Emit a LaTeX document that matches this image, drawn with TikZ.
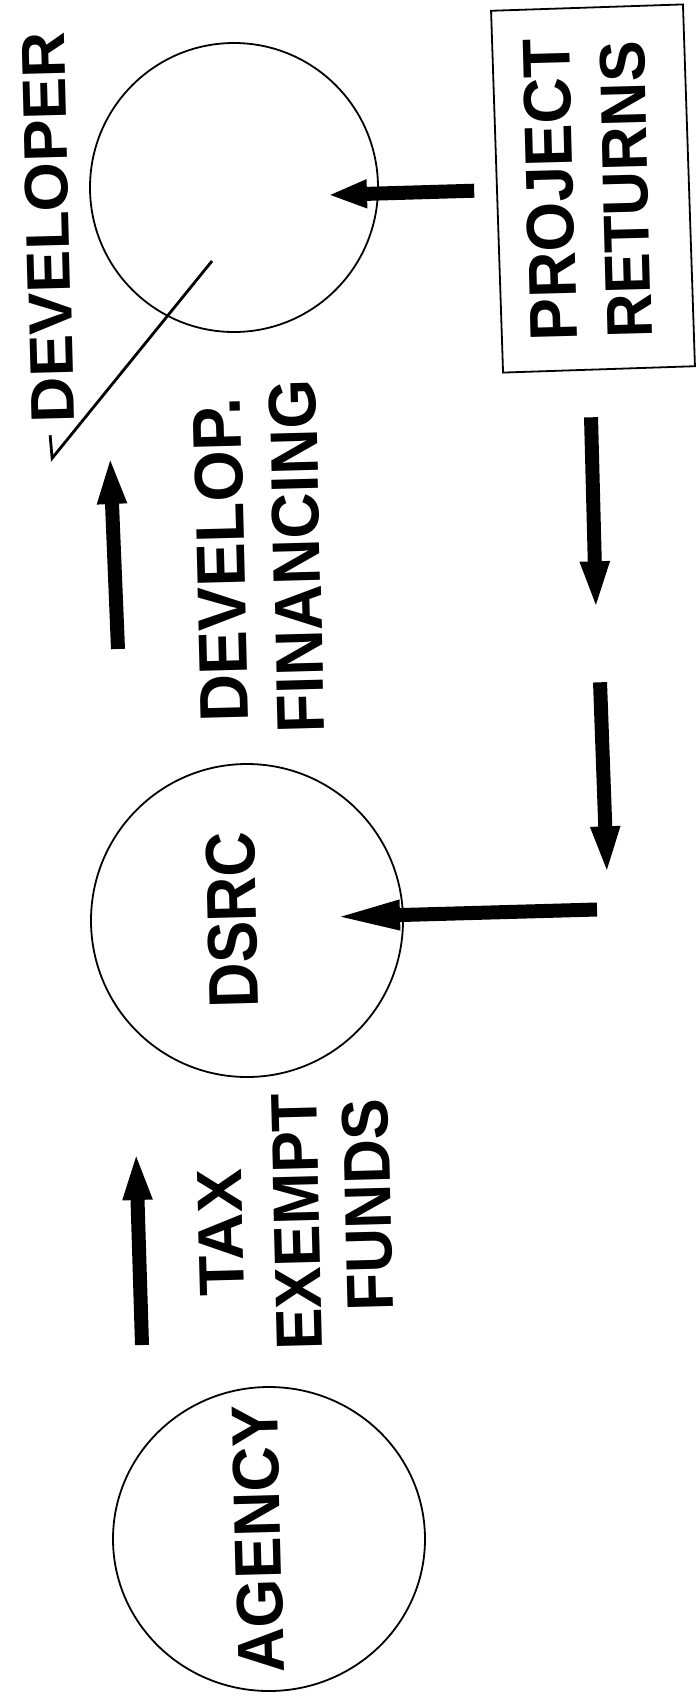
\documentclass[tikz,border=0pt]{standalone}
\usepackage{fontspec}
\setmainfont{Liberation Sans}
\usepackage{graphicx}
\usetikzlibrary{arrows.meta,calc,shapes.geometric}
\newlength\pxu
\setlength\pxu{0.5mm}
% bold capitals stretched to a given length and cap height (in px units)
\newcommand\caps[3]{\resizebox{#1\pxu}{#2\pxu}{\bfseries #3}}
\tikzset{
  ring/.style={ellipse, draw, line width=0.9mm, inner sep=0pt},
  frame/.style={draw, line width=0.9mm, inner sep=0pt},
  flow/.style={line width=7mm, -{Triangle[length=#1,width=13mm]}},
  flow/.default=24.5mm,
  word/.style={inner sep=0pt, rotate=91.5},
  leader/.style={line width=1.4mm},
}
\begin{document}
\begin{tikzpicture}[x=0.5mm,y=-0.5mm]
\useasboundingbox (0,0) rectangle (695,1701);
\fill[white] (0,0) rectangle (695,1701);

% parties
\node[ring, minimum width=144mm, minimum height=144.5mm] (dev) at (234,187.5) {};
\node[ring, minimum width=156mm, minimum height=156.5mm] (dsrc) at (247,920.5) {};
\node[ring, minimum width=156mm, minimum height=152mm] (agency) at (269,1539) {};
\node[frame, minimum width=96mm, minimum height=181mm, rotate=1.9] (ret) at (593,188.5) {};

% labels
\node[word] (tdev) at (48,227.5) {\caps{391}{43}{DEVELOPER}};
\node[word] (tproj) at (550,190) {\caps{302}{47}{PROJECT}};
\node[word] (tret) at (626,190) {\caps{297}{45}{RETURNS}};
\node[word] (tdevelop) at (221,560) {\caps{325}{48}{DEVELOP.}};
\node[word] (tfin) at (297,556.5) {\caps{353}{47}{FINANCING}};
\node[word] (tdsrc) at (232,920) {\caps{177}{49}{DSRC}};
\node[word] (ttax) at (221,1233) {\caps{127}{44}{TAX}};
\node[word] (texempt) at (297,1222) {\caps{257}{45}{EXEMPT}};
\node[word] (tfunds) at (368,1205) {\caps{212}{46}{FUNDS}};
\node[word] (tagency) at (258,1539) {\caps{268}{46}{AGENCY}};

% leader from the developer circle to its label
\coordinate (lstart) at ($(dev.center)+(-22,73.5)$);
\coordinate (lend) at ($(tdev.west)+(-1,35)$);
\coordinate (ltick) at ($(lend)+(-2,-23)$);
\draw[leader] (lstart) -- (lend) -- (ltick);

% money flows
\coordinate (r1) at ($(ret.west)+(-22,-1)$);
\coordinate (d1) at ($(dev.center)+(94,7.5)$);
\draw[flow=19.5mm] (r1) -- (d1);

\coordinate (r2) at ($(ret.south)+(-8,47)$);
\coordinate (r3) at ($(r2)+(5,193)$);
\draw[flow] (r2) -- (r3);

\coordinate (r4) at ($(r2)+(9,265)$);
\coordinate (r5) at ($(r4)+(7,193)$);
\draw[flow] (r4) -- (r5);

\coordinate (r6) at ($(dsrc.center)+(350,-11)$);
\coordinate (s1) at ($(dsrc.center)+(83,-3.5)$);
\draw[flow=35mm] (r6) -- (s1);

\coordinate (f1) at ($(dev.center)+(-116,461.5)$);
\coordinate (f2) at ($(dev.center)+(-124,267.5)$);
\draw[flow] (f1) -- (f2);

\coordinate (g1) at ($(agency.center)+(-127,-194)$);
\coordinate (g2) at ($(agency.center)+(-133,-388)$);
\draw[flow] (g1) -- (g2);
\end{tikzpicture}
\end{document}
